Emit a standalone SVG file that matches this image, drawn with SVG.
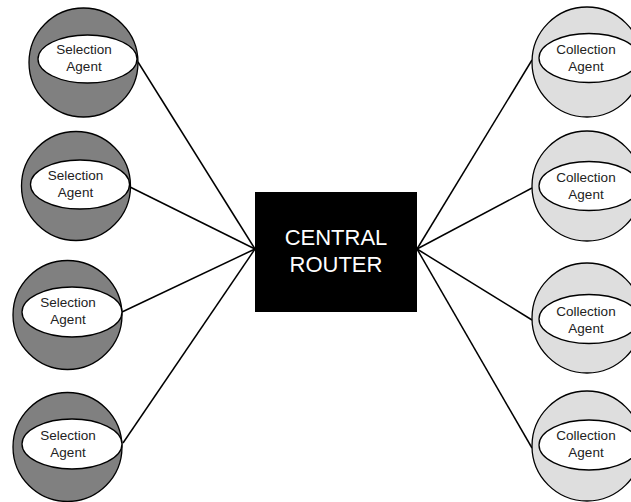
<svg xmlns="http://www.w3.org/2000/svg" width="631" height="502" viewBox="0 0 631 502">
<style>
.sel{fill:#808080;stroke:#000;stroke-width:1.3}
.col{fill:#dedede;stroke:#000;stroke-width:1.3}
.inner{fill:#fff;stroke:#000;stroke-width:1.3}
.lbl{font-family:"Liberation Sans",Arial,sans-serif;font-size:13.5px;fill:#222;text-anchor:middle}
.conn{stroke:#000;stroke-width:1.5;fill:none}
.rt{font-family:"Liberation Sans",Arial,sans-serif;font-size:22px;fill:#fff;text-anchor:middle}
</style>
<rect width="631" height="502" fill="#fff"/>
<g id="connectors">
<line class="conn" x1="138" y1="62" x2="255" y2="249"/>
<line class="conn" x1="130" y1="187" x2="255" y2="249"/>
<line class="conn" x1="122" y1="312" x2="255" y2="249"/>
<line class="conn" x1="123" y1="443" x2="255" y2="249"/>
<line class="conn" x1="532" y1="60" x2="417" y2="249"/>
<line class="conn" x1="532" y1="188" x2="417" y2="249"/>
<line class="conn" x1="532" y1="320" x2="417" y2="249"/>
<line class="conn" x1="532" y1="448" x2="417" y2="249"/>
</g>
<g id="router">
<rect x="255" y="192" width="162" height="120" fill="#000"/>
<text class="rt" x="336" y="245">CENTRAL</text>
<text class="rt" x="336" y="272">ROUTER</text>
</g>
<g id="sel1">
<circle class="sel" cx="83.5" cy="62.5" r="54.5"/>
<ellipse class="inner" cx="87.5" cy="59" rx="49.5" ry="24"/>
<text class="lbl" x="84" y="54">Selection</text>
<text class="lbl" x="84" y="71">Agent</text>
</g>
<g id="sel2">
<circle class="sel" cx="76" cy="186" r="54.5"/>
<ellipse class="inner" cx="80" cy="184.5" rx="49.5" ry="24.5"/>
<text class="lbl" x="75.5" y="180">Selection</text>
<text class="lbl" x="75.5" y="197">Agent</text>
</g>
<g id="sel3">
<circle class="sel" cx="67.5" cy="315" r="54.5"/>
<ellipse class="inner" cx="72" cy="312" rx="50" ry="25"/>
<text class="lbl" x="68" y="307">Selection</text>
<text class="lbl" x="68" y="324">Agent</text>
</g>
<g id="sel4">
<circle class="sel" cx="67.5" cy="447" r="54.5"/>
<ellipse class="inner" cx="72" cy="444" rx="50" ry="25"/>
<text class="lbl" x="68" y="440">Selection</text>
<text class="lbl" x="68" y="457">Agent</text>
</g>
<g id="col1">
<circle class="col" cx="587" cy="62" r="55"/>
<ellipse class="inner" cx="589" cy="58" rx="50" ry="24.5"/>
<text class="lbl" x="586" y="54">Collection</text>
<text class="lbl" x="586" y="71">Agent</text>
</g>
<g id="col2">
<circle class="col" cx="587" cy="186" r="55"/>
<ellipse class="inner" cx="589" cy="186" rx="50" ry="24.5"/>
<text class="lbl" x="586" y="182">Collection</text>
<text class="lbl" x="586" y="199">Agent</text>
</g>
<g id="col3">
<circle class="col" cx="587" cy="318" r="55"/>
<ellipse class="inner" cx="589" cy="319" rx="50" ry="24.5"/>
<text class="lbl" x="586" y="316">Collection</text>
<text class="lbl" x="586" y="333">Agent</text>
</g>
<g id="col4">
<circle class="col" cx="587" cy="446" r="55"/>
<ellipse class="inner" cx="589" cy="445" rx="50" ry="25"/>
<text class="lbl" x="586" y="440">Collection</text>
<text class="lbl" x="586" y="457">Agent</text>
</g>
</svg>
